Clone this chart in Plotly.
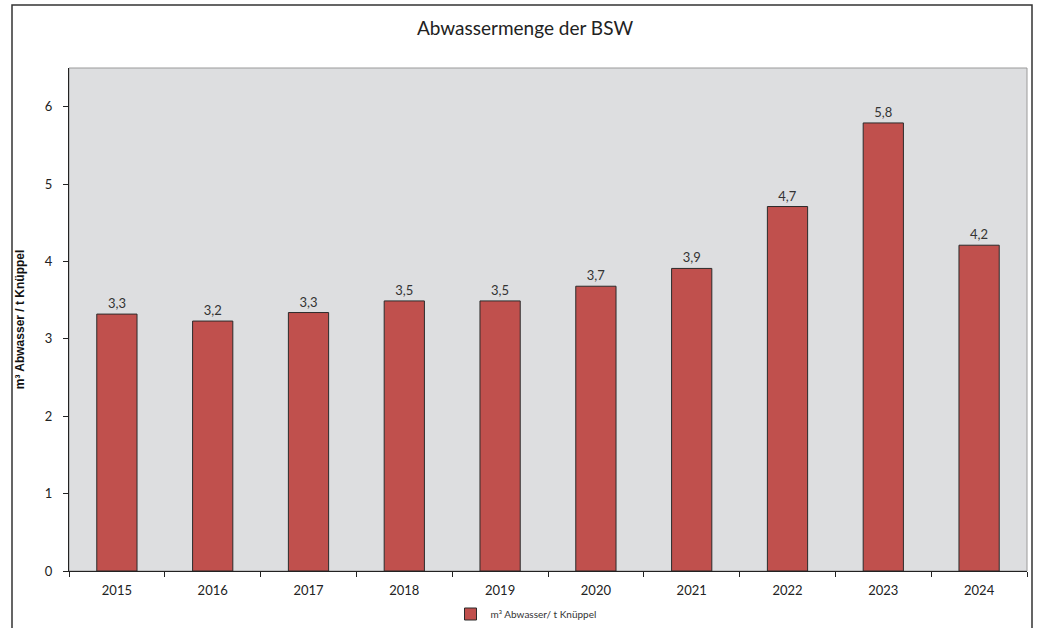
import plotly.graph_objects as go

years = ["2015", "2016", "2017", "2018", "2019", "2020", "2021", "2022", "2023", "2024"]
values = [3.32, 3.23, 3.34, 3.49, 3.49, 3.68, 3.91, 4.71, 5.79, 4.21]
series_name = "m³ Abwasser/ t Knüppel"
y_title = "m³ Abwasser / t Knüppel"
chart_title = "Abwassermenge der BSW"

FONT = "Lato"

L, R, T, B = 69, 11, 68, 57
W, H = 1038, 628
pw, ph = W - L - R, H - T - B

def px(x):  # screen x -> paper
    return (x - L) / pw

def py(y):  # screen y -> paper
    return (H - B - y) / ph

fig = go.Figure()
fig.add_trace(go.Bar(
    x=years, y=values, name=series_name,
    marker=dict(color="#C0504D", line=dict(color="#2b2b2b", width=1)),
    width=0.42,
    texttemplate="%{y:.1f}", textposition="outside",
    textfont=dict(family=FONT, size=13, color="#333333"),
    cliponaxis=False,
    showlegend=True,
))

fig.update_layout(
    width=W, height=H,
    margin=dict(l=L, r=R, t=T, b=B, autoexpand=False),
    paper_bgcolor="white",
    plot_bgcolor="#DDDEE0",
    separators=",.",
    title=dict(text=chart_title, x=525 / W, xref="container", xanchor="center",
               y=1 - 28 / H, yref="container", yanchor="middle",
               font=dict(family=FONT, size=19, color="#222222")),
    font=dict(family=FONT, size=12, color="#222222"),
    showlegend=True,
    legend=dict(orientation="h", xref="container", yref="container",
                x=526 / W, xanchor="center", y=1 - 614 / H, yanchor="middle",
                font=dict(family=FONT, size=10, color="#333333"), itemwidth=30,
                bgcolor="rgba(0,0,0,0)"),
    xaxis=dict(type="category", showgrid=False, showline=True, linecolor="#222222", linewidth=1,
               ticks="outside", tickson="boundaries", ticklen=5, tickcolor="#222222",
               ticklabelstandoff=7, automargin=False,
               tickfont=dict(family=FONT, size=13, color="#222222"), mirror=False),
    yaxis=dict(range=[0, 6.5], dtick=1, showgrid=False, zeroline=False, showline=True,
               linecolor="#222222", linewidth=1, ticks="outside", ticklen=5, tickcolor="#222222",
               ticklabelstandoff=8, automargin=False,
               tickfont=dict(family=FONT, size=13, color="#222222"),
               title=dict(text=y_title, font=dict(family="Liberation Sans", size=12, color="#111111", weight="bold"),
                          standoff=17)),
    shapes=[
        dict(type="rect", xref="paper", yref="paper", x0=0, x1=1, y0=0, y1=1,
             line=dict(color="#9a9a9a", width=1), fillcolor="rgba(0,0,0,0)", layer="below"),
        dict(type="rect", xref="paper", yref="paper", x0=px(12), x1=px(1032), y0=py(5), y1=py(660),
             line=dict(color="#333333", width=1.5), fillcolor="rgba(0,0,0,0)"),
    ],
)

fig.write_html("out.html", config={"displayModeBar": False},
               post_script="document.body.style.margin='0px';")
